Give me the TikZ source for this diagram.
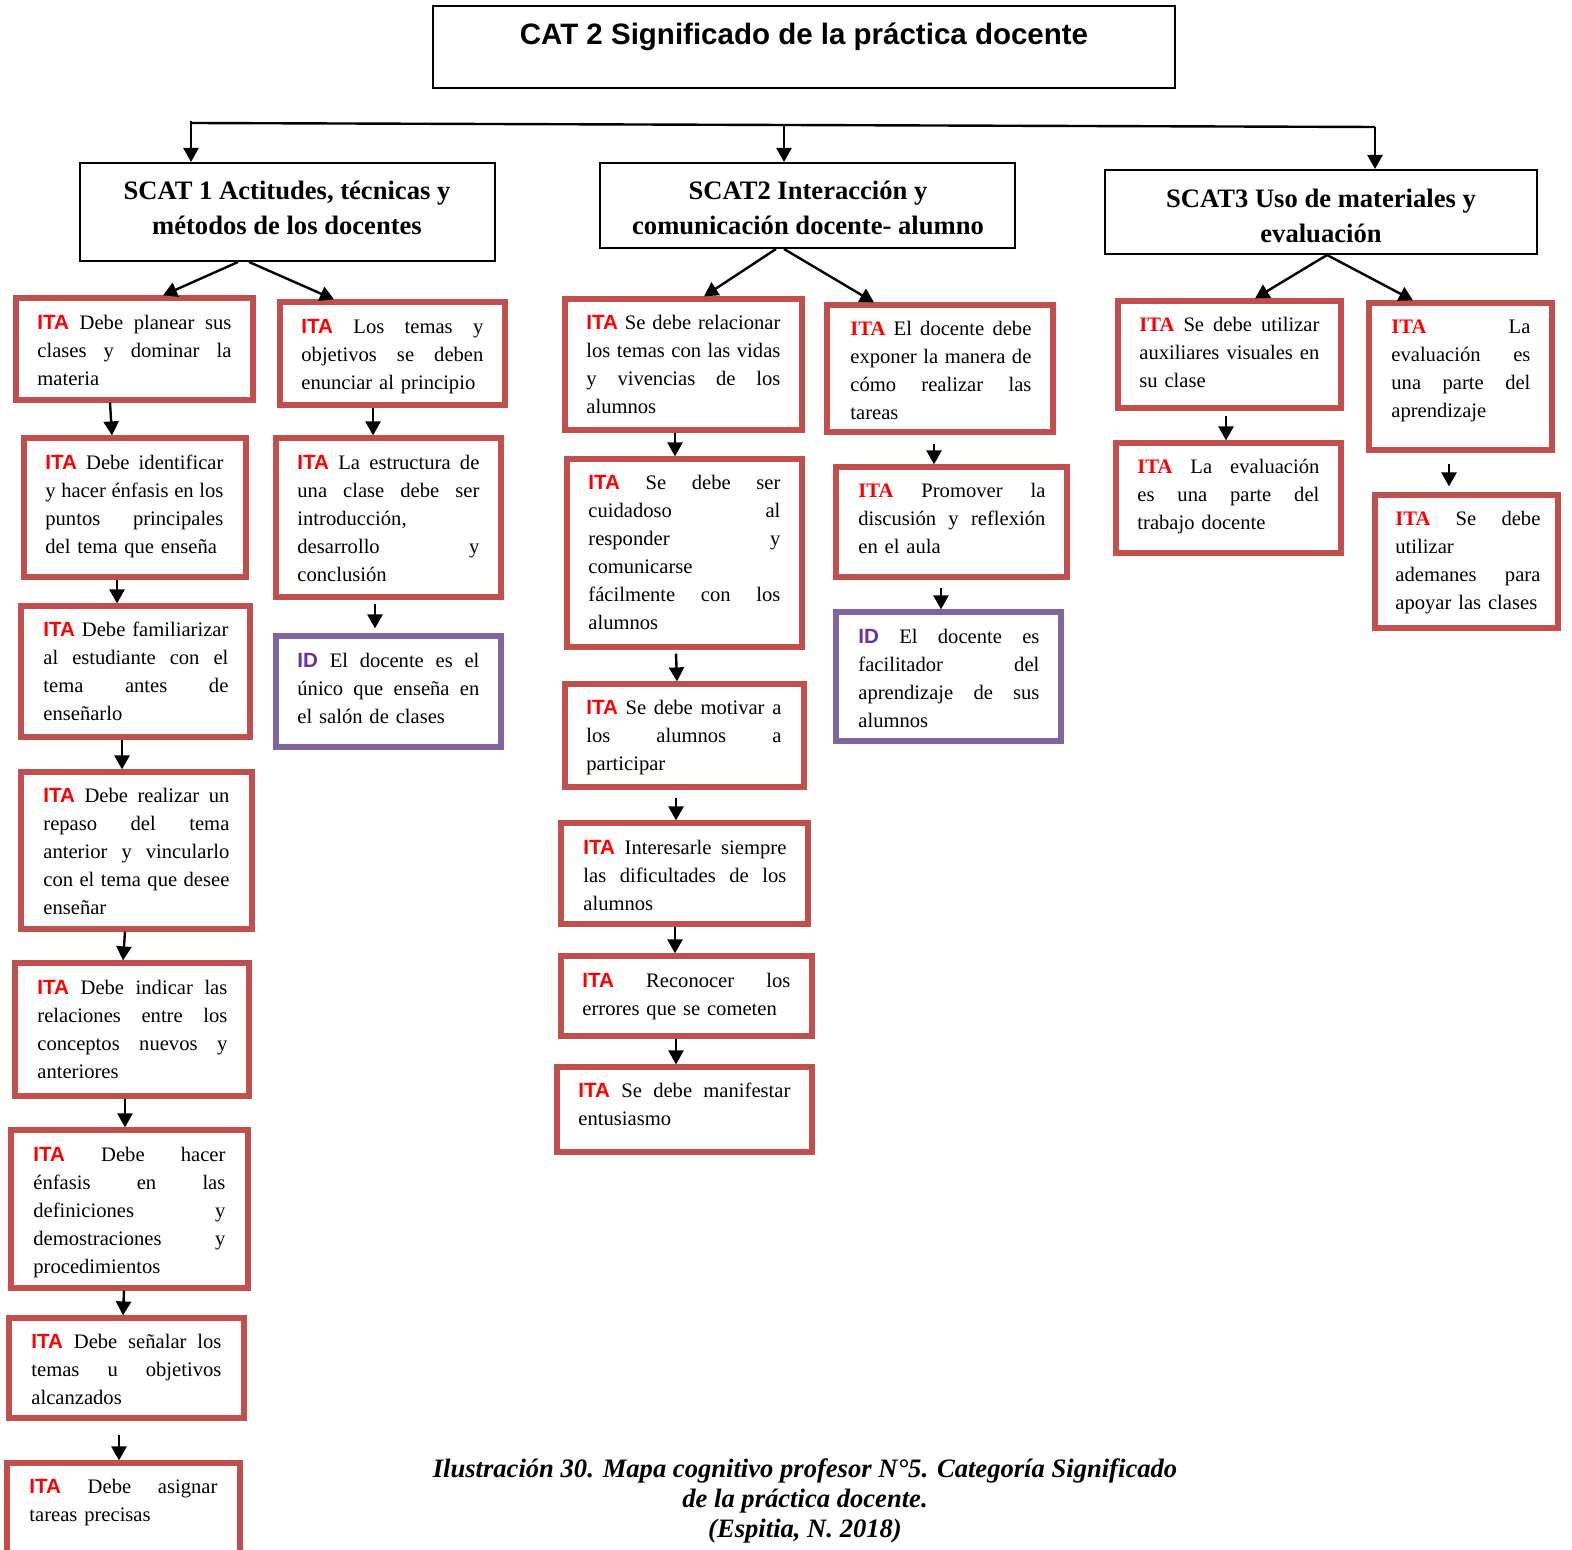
\documentclass[tikz,border=0pt]{standalone}
\usepackage{fontspec}
\setmainfont{Liberation Serif}
\newfontfamily\arialfont{Liberation Sans}
\usetikzlibrary{arrows.meta,fit,calc}

\definecolor{boxred}{HTML}{C0504D}
\definecolor{boxpurple}{HTML}{8064A2}
\definecolor{itared}{HTML}{FF0000}
\definecolor{idpurple}{HTML}{7030A0}

% item tags
\newcommand\itas{{\arialfont\bfseries\color{itared}ITA}}
\newcommand\itar{{\bfseries\color{itared}ITA}}
\newcommand\idp{{\arialfont\bfseries\color{idpurple}ID}}
% a fully justified line, as wide as the current text block
\newlength\itemw
\newcommand\jl[1]{\leavevmode\strut\hbox to \itemw{\spaceskip=0.25em plus 3em minus 0.05em\relax #1}\\}

\tikzset{
  catbox/.style={draw=black, line width=1pt, inner sep=0pt, fit={#1}},
  redbox/.style={draw=boxred, line width=2.6pt, inner sep=0pt, fit={#1}},
  purplebox/.style={draw=boxpurple, line width=2.6pt, inner sep=0pt, fit={#1}},
  itemtext/.style={anchor=north west, inner sep=0pt, align=left,
    font=\fontsize{10.3}{14}\selectfont},
  headtext/.style={inner sep=0pt, align=center,
    font=\fontsize{13.3}{17.5}\selectfont\bfseries},
  arr/.style={line width=1.2pt, -{Triangle[length=7pt,width=7.5pt]}},
}

% name, x of left edge, first baseline, width, lines (all in px)
\newcommand\boxtext[5]{%
  \pgfmathsetlength\itemw{#4*0.5pt}%
  \node[itemtext, text width=\itemw] (#1) at (#2,{#3-19.6}) {\strut#5};}

\begin{document}
\begin{tikzpicture}[x=0.5pt,y=-0.5pt]
\useasboundingbox (0,0) rectangle (1572,1550);
\clip (0,0) rectangle (1572,1550);
\fill[white] (0,0) rectangle (1572,1550);

% ---------- category and sub-categories ----------
\node[catbox={(433,6)(1175,88)}] (cat) {};
\node[inner sep=0pt, font=\arialfont\bfseries\fontsize{14.75}{17}\selectfont] (catt) at (804,37) {CAT 2 Significado de la práctica docente};

\node[catbox={(80,163)(495,261)}] (S1) {};
\node[headtext] (S1t) at (287,208) {SCAT 1 Actitudes, técnicas y\\métodos de los docentes};
\node[catbox={(600,163)(1015,248)}] (S2) {};
\node[headtext] (S2t) at (808,208) {SCAT2 Interacción y\\comunicación docente- alumno};
\node[catbox={(1105,170)(1537,254)}] (S3) {};
\node[headtext] (S3t) at (1321,216) {SCAT3 Uso de materiales y\\evaluación};

\coordinate (busL) at (191,123);
\coordinate (busM) at (784,125);
\coordinate (busR) at (1375,127);
\draw[line width=1.2pt] (busL) -- (busM) -- (busR);
\draw[line width=1.2pt] (busL) -- ++(0,-2);
\draw[arr] (busL) -- (S1.north -| busL);
\draw[arr] (busM) -- (S2.north -| busM);
\draw[arr] (busR) -- (S3.north -| busR);

% ---------- boxes, column 1 ----------
\node[redbox={(16,298)(253,400)}] (L1) {};
\boxtext{L1t}{37}{329}{194}{\jl{\itas{} Debe planear sus}\jl{clases y dominar la}materia}
\node[redbox={(24,438)(246,577)}] (L1b) {};
\boxtext{L1bt}{45}{469}{178}{\jl{\itas{} Debe identificar}\jl{y hacer énfasis en los}\jl{puntos principales}del tema que enseña}
\node[redbox={(21,606)(250,737)}] (L1c) {};
\boxtext{L1ct}{43}{636}{185}{\jl{\itas{} Debe familiarizar}\jl{al estudiante con el}\jl{tema antes de}enseñarlo}
\node[redbox={(21,772)(252,929)}] (L1d) {};
\boxtext{L1dt}{43}{802}{186}{\jl{\itas{} Debe realizar un}\jl{repaso del tema}\jl{anterior y vincularlo}\jl{con el tema que desee}enseñar}
\node[redbox={(15,963)(249,1096)}] (L1e) {};
\boxtext{L1et}{37}{994}{190}{\jl{\itas{} Debe indicar las}\jl{relaciones entre los}\jl{conceptos nuevos y}anteriores}
\node[redbox={(11,1130)(248,1288)}] (L1f) {};
\boxtext{L1ft}{33}{1161}{192}{\jl{\itas{} Debe hacer}\jl{énfasis en las}\jl{definiciones y}\jl{demostraciones y}procedimientos}
\node[redbox={(9,1318)(244,1418)}] (L1g) {};
\boxtext{L1gt}{31}{1348}{190}{\jl{\itas{} Debe señalar los}\jl{temas u objetivos}alcanzados}
\node[redbox={(7,1463)(240,1570)}] (L1h) {};
\boxtext{L1ht}{29}{1493}{188}{\jl{\itas{} Debe asignar}tareas precisas}

% ---------- boxes, column 2 ----------
\node[redbox={(280,302)(505,405)}] (L2) {};
\boxtext{L2t}{301}{333}{182}{\jl{\itas{} Los temas y}\jl{objetivos se deben}enunciar al principio}
\node[redbox={(276,438)(501,597)}] (L2b) {};
\boxtext{L2bt}{297}{469}{182}{\jl{\itas{} La estructura de}\jl{una clase debe ser}introducción,\\\jl{desarrollo y}conclusión}
\node[purplebox={(276,636)(501,747)}] (L2c) {};
\boxtext{L2ct}{297}{667}{182}{\jl{\idp{} El docente es el}\jl{único que enseña en}el salón de clases}

% ---------- boxes, column 3 ----------
\node[redbox={(565,299)(802,430)}] (M1) {};
\boxtext{M1t}{586}{329}{194}{\jl{\itas{} Se debe relacionar}\jl{los temas con las vidas}\jl{y vivencias de los}alumnos}
\node[redbox={(567,459)(802,647)}] (M1b) {};
\boxtext{M1bt}{588}{489}{192}{\jl{\itas{} Se debe ser}\jl{cuidadoso al}\jl{responder y}comunicarse\\\jl{fácilmente con los}alumnos}
\node[redbox={(565,684)(804,787)}] (M1c) {};
\boxtext{M1ct}{586}{714}{195}{\jl{\itas{} Se debe motivar a}\jl{los alumnos a}participar}
\node[redbox={(561,823)(808,924)}] (M1d) {};
\boxtext{M1dt}{583}{854}{203}{\jl{\itas{} Interesarle siempre}\jl{las dificultades de los}alumnos}
\node[redbox={(561,956)(812,1036)}] (M1e) {};
\boxtext{M1et}{582}{987}{208}{\jl{\itas{} Reconocer los}errores que se cometen}
\node[redbox={(557,1067)(812,1152)}] (M1f) {};
\boxtext{M1ft}{578}{1097}{212}{\jl{\itas{} Se debe manifestar}entusiasmo}

% ---------- boxes, column 4 ----------
\node[redbox={(827,305)(1053,432)}] (M2) {};
\boxtext{M2t}{850}{335}{181}{\jl{\itar{} El docente debe}\jl{exponer la manera de}\jl{cómo realizar las}tareas}
\node[redbox={(836,467)(1067,577)}] (M2b) {};
\boxtext{M2bt}{858}{497}{187}{\jl{\itar{} Promover la}\jl{discusión y reflexión}en el aula}
\node[purplebox={(836,612)(1061,741)}] (M2c) {};
\boxtext{M2ct}{858}{643}{181}{\jl{\idp{} El docente es}\jl{facilitador del}\jl{aprendizaje de sus}alumnos}

% ---------- boxes, columns 5 and 6 ----------
\node[redbox={(1118,301)(1341,408)}] (R1) {};
\boxtext{R1t}{1139}{331}{180}{\jl{\itar{} Se debe utilizar}\jl{auxiliares visuales en}su clase}
\node[redbox={(1116,443)(1341,553)}] (R1b) {};
\boxtext{R1bt}{1137}{473}{182}{\jl{\itar{} La evaluación}\jl{es una parte del}trabajo docente}
\node[redbox={(1369,303)(1552,450)}] (R2) {};
\boxtext{R2t}{1391}{333}{139}{\jl{\itar{} La}\jl{evaluación es}\jl{una parte del}aprendizaje}
\node[redbox={(1375,495)(1558,628)}] (R2b) {};
\boxtext{R2bt}{1395}{525}{145}{\jl{\itar{} Se debe}utilizar\\\jl{ademanes para}apoyar las clases}

% ---------- connectors ----------
\draw[arr] (S1.south -| 238,0) -- (L1.north -| 163,0);
\draw[arr] (S1.south -| 249,0) -- (L2.north -| 334,0);
\draw[arr] (S2.south -| 776,0) -- (M1.north -| 704,0);
\draw[arr] (S2.south -| 784,0) -- (M2.north -| 874,0);
\draw[arr] (S3.south -| 1327,0) -- (R1.north -| 1255,0);
\draw[arr] (S3.south -| 1327,0) -- (R2.north -| 1413,0);

\draw[arr] (L1.south -| 110,0) -- (L1b.north -| 112,0);
\draw[arr] (L1b.south -| 117,0) -- (L1c.north -| 117,0);
\draw[arr] (L1c.south -| 122,0) -- (L1d.north -| 122,0);
\draw[arr] (L1d.south -| 125,0) -- (L1e.north -| 123,0);
\draw[arr] (L1e.south -| 125,0) -- (L1f.north -| 125,0);
\draw[arr] (L1f.south -| 124,0) -- (L1g.north -| 123,0);
\draw[arr] ($(L1g.south -| 119,0)+(0,14)$) -- (L1h.north -| 119,0);

\draw[arr] (L2.south -| 373,0) -- (L2b.north -| 373,0);
\draw[arr] ($(L2b.south -| 375,0)+(0,4)$) -- ($(L2c.north -| 375,0)+(0,-5)$);

\draw[arr] (M1.south -| 675,0) -- (M1b.north -| 675,0);
\draw[arr] ($(M1b.south -| 676,0)+(0,4)$) -- (M1c.north -| 677,0);
\draw[arr] ($(M1c.south -| 676,0)+(0,8)$) -- (M1d.north -| 676,0);
\draw[arr] (M1d.south -| 675,0) -- (M1e.north -| 675,0);
\draw[arr] (M1e.south -| 676,0) -- (M1f.north -| 676,0);

\draw[arr] ($(M2.south -| 934,0)+(0,9)$) -- (M2b.north -| 934,0);
\draw[arr] ($(M2b.south -| 941,0)+(0,8)$) -- (M2c.north -| 941,0);

\draw[arr] ($(R1.south -| 1226,0)+(0,5)$) -- (R1b.north -| 1226,0);
\draw[arr] ($(R2.south -| 1449,0)+(0,11)$) -- ($(R2b.north -| 1449,0)+(0,-6)$);

% ---------- caption ----------
\node[inner sep=0pt, align=center, font=\fontsize{13.3}{15}\selectfont\bfseries\itshape] (cap) at (805,1501)
  {Ilustración 30. Mapa cognitivo profesor N°5. Categoría Significado\\de la práctica docente.\\(Espitia, N. 2018)};
\end{tikzpicture}
\end{document}
